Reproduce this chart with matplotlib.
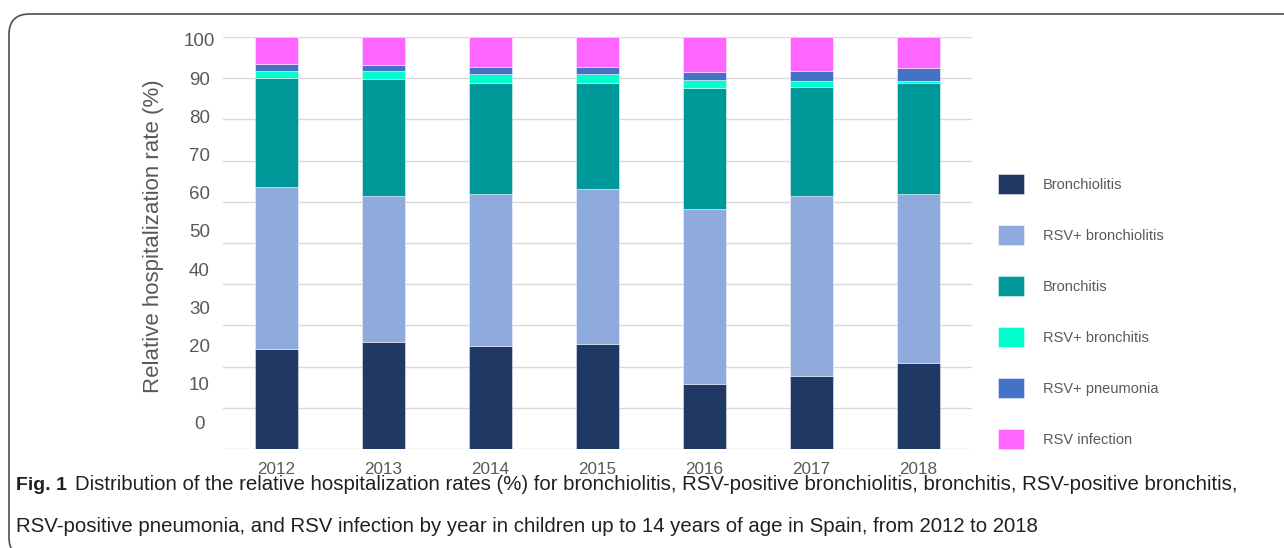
import numpy as np
import matplotlib
matplotlib.use('Agg')
import matplotlib.pyplot as plt
from matplotlib.patches import FancyBboxPatch

years = ['2012', '2013', '2014', '2015', '2016', '2017', '2018']
bronchiolitis = [24.3, 26.0, 25.1, 25.5, 15.7, 17.8, 20.9]
rsv_bronchiolitis = [39.3, 35.3, 36.9, 37.6, 42.6, 43.7, 41.1]
bronchitis = [26.5, 28.6, 26.9, 25.7, 29.4, 26.4, 26.9]
rsv_bronchitis = [1.7, 1.8, 2.1, 2.1, 1.9, 1.5, 0.3]
rsv_pneumonia = [1.6, 1.6, 1.6, 1.7, 2.0, 2.3, 3.2]
rsv_infection = [6.6, 6.7, 7.4, 7.4, 8.4, 8.3, 7.6]

labels = ['Bronchiolitis', 'RSV+ bronchiolitis', 'Bronchitis', 'RSV+ bronchitis',
          'RSV+ pneumonia', 'RSV infection']
colors = ['#203864', '#8FAADC', '#009999', '#00FFCC', '#4472C4', '#FF66FF']
data = [bronchiolitis, rsv_bronchiolitis, bronchitis, rsv_bronchitis, rsv_pneumonia, rsv_infection]

# the y labels in the original sit slightly off the gridlines
tick_vals = [0, 10, 20, 30, 40, 50, 60, 70, 80, 90, 100]
label_pos = [6.55 + 0.9275 * v for v in tick_vals]

plt.rcParams['font.family'] = ['Liberation Sans', 'DejaVu Sans']
grey = '#595959'

W, H = 1284, 548
fig = plt.figure(figsize=(W / 100, H / 100), dpi=100)
ax = fig.add_axes([223 / W, 1 - 449 / H, (972 - 223) / W, (449 - 37) / H])

x = np.arange(len(years))
bottom = np.zeros(len(years))
for vals, lab, col in zip(data, labels, colors):
    ax.bar(x, vals, 0.4, bottom=bottom, color=col, label=lab,
           edgecolor=(1, 1, 1, 0.45), linewidth=0.7, zorder=3)
    bottom += np.array(vals)

ax.set_xlim(-0.5, 6.5)
ax.set_ylim(0, 100)
ax.set_xticks(x)
ax.set_xticklabels(years, fontsize=12.3, color=grey)
ax.set_yticks(label_pos)
ax.set_yticklabels([str(v) for v in tick_vals], fontsize=13.5, color=grey, ha='center')
ax.set_yticks(tick_vals, minor=True)
ax.tick_params(axis='both', which='both', length=0)
ax.tick_params(axis='y', which='major', pad=17)
ax.tick_params(axis='x', pad=9.5)
ax.grid(axis='y', which='minor', color='#D9D9D9', linewidth=1.0)
ax.grid(axis='y', which='major', visible=False)
ax.set_axisbelow(True)
for s in ax.spines.values():
    s.set_visible(False)

fig.text(153 / W, 1 - 236 / H, 'Relative hospitalization rate (%)', rotation=90,
         ha='center', va='center', fontsize=16, color=grey)

fs = 10.5
fpx = fs * 100 / 72
fig.legend(loc='upper left', bbox_to_anchor=(998 / W, 1 - 174 / H), frameon=False,
           fontsize=fs, labelcolor=grey, handlelength=26 / fpx, handleheight=26 / fpx,
           labelspacing=30.5 / fpx, handletextpad=19 / fpx, borderpad=0, borderaxespad=0)

# rounded frame of the figure panel
box = FancyBboxPatch((9 / W, -10 / H), (W + 40) / W, (H - 14 + 10) / H,
                     boxstyle='round,pad=0,rounding_size=0.016',
                     transform=fig.transFigure, fill=False, edgecolor='#4d4d4d',
                     linewidth=1.2, mutation_aspect=W / H)
fig.patches.append(box)

cap_font = ['Liberation Sans Narrow', 'Liberation Sans', 'DejaVu Sans']
cap_fs = 13.0
fig.canvas.draw()
r = fig.canvas.get_renderer()
t0 = fig.text(16 / W, 1 - 490 / H, 'Fig. 1', fontsize=14, fontweight='bold',
              family=cap_font, color='#231F20', va='baseline')
line1 = ('Distribution of the relative hospitalization rates (%) for bronchiolitis, '
         'RSV-positive bronchiolitis, bronchitis, RSV-positive bronchitis,')
line2 = ('RSV-positive pneumonia, and RSV infection by year in children up to 14 years '
         'of age in Spain, from 2012 to 2018')
x1 = t0.get_window_extent(r).x1 + 8
t1 = fig.text(x1 / W, 1 - 490 / H, line1, fontsize=cap_fs, family=cap_font,
              color='#231F20', va='baseline')
t2 = fig.text(16 / W, 1 - 532 / H, line2, fontsize=cap_fs, family=cap_font,
              color='#231F20', va='baseline')
# fit caption width to the original
w1 = t1.get_window_extent(r).width
scale = (1236 - x1) / w1
t1.set_fontsize(cap_fs * scale)
t2.set_fontsize(cap_fs * scale)

fig.savefig('out.png', dpi=100)
